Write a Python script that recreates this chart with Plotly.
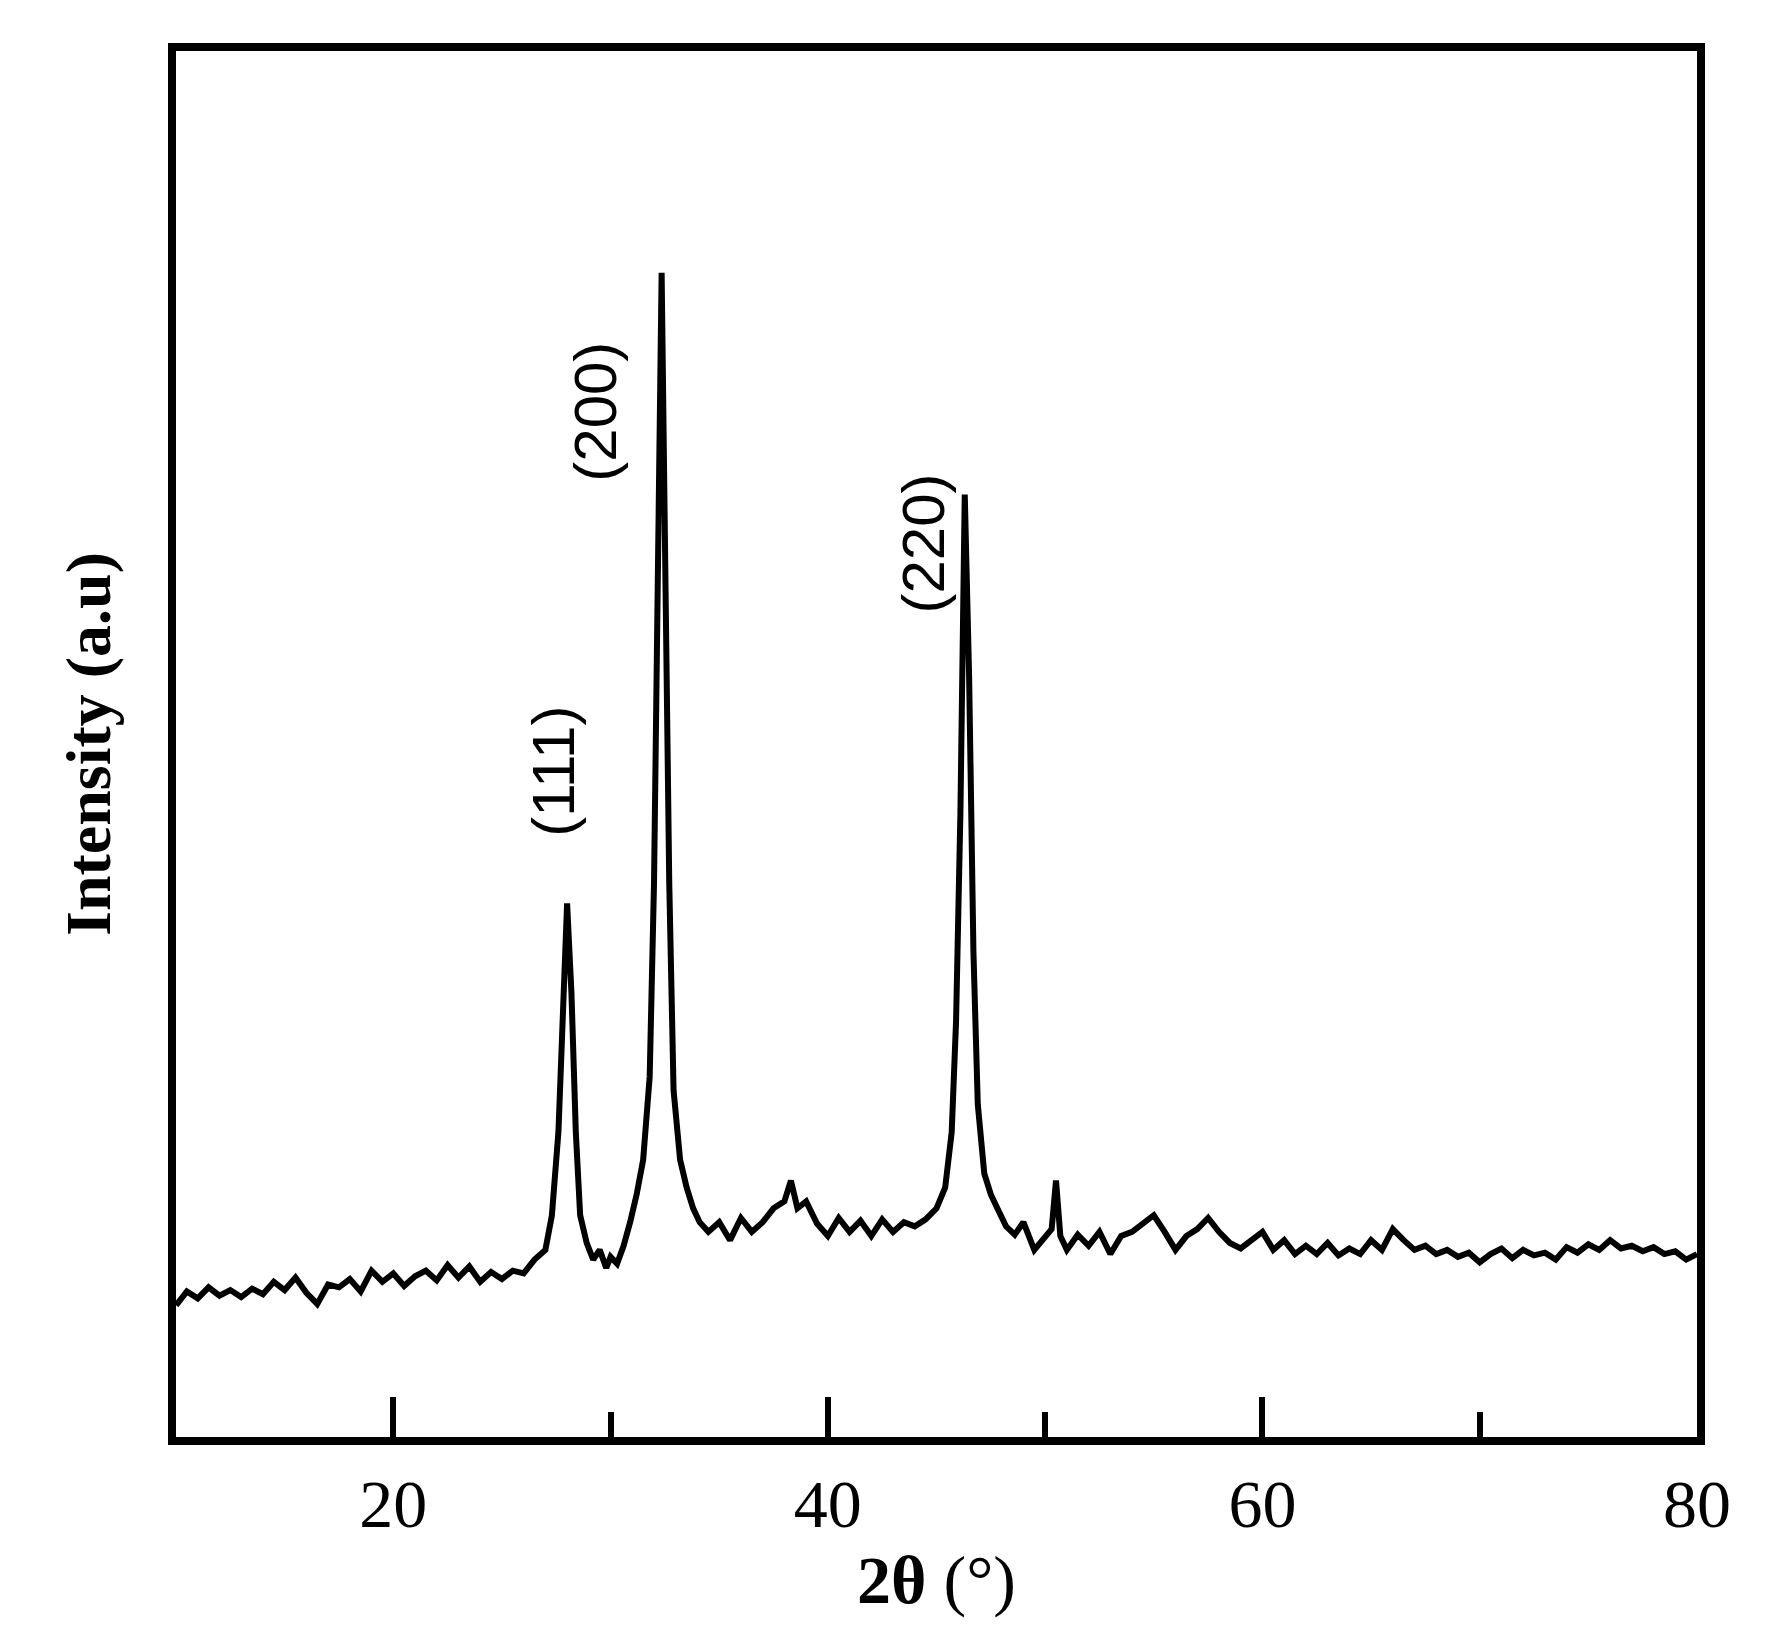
import plotly.graph_objects as go

# 2-theta positions (deg) and intensities (a.u.)
two_theta = [10, 10.5, 11, 11.5, 12, 12.5, 13, 13.5, 14, 14.5, 15, 15.5, 16, 16.5, 17, 17.5, 18, 18.5,
             19, 19.5, 20, 20.5, 21, 21.5, 22, 22.5, 23, 23.5, 24, 24.5, 25, 25.5, 26, 26.5, 27,
             27.3, 27.6, 27.8, 28.0, 28.2, 28.4, 28.6, 28.9, 29.2, 29.5, 29.8, 30, 30.3, 30.6, 30.9,
             31.2, 31.5, 31.8, 32.0, 32.2, 32.35, 32.5, 32.7, 32.9, 33.2, 33.5, 33.8, 34.1, 34.5, 35,
             35.5, 36, 36.5, 37, 37.5, 38, 38.3, 38.6, 39, 39.5, 40, 40.5, 41, 41.5, 42, 42.5, 43,
             43.5, 44, 44.5, 45, 45.4, 45.7, 45.9, 46.1, 46.3, 46.5, 46.7, 46.9, 47.2, 47.5, 47.8,
             48.2, 48.6, 49, 49.5, 50, 50.3, 50.5, 50.7, 51, 51.5, 52, 52.5, 53, 53.5, 54, 54.5, 55,
             55.5, 56, 56.5, 57, 57.5, 58, 58.5, 59, 59.5, 60, 60.5, 61, 61.5, 62, 62.5, 63, 63.5, 64,
             64.5, 65, 65.5, 66, 66.5, 67, 67.5, 68, 68.5, 69, 69.5, 70, 70.5, 71, 71.5, 72, 72.5, 73,
             73.5, 74, 74.5, 75, 75.5, 76, 76.5, 77, 77.5, 78, 78.5, 79, 79.5, 80]
intensity = [9.5, 10.5, 10, 10.8, 10.2, 10.6, 10.1, 10.7, 10.3, 11.2, 10.6, 11.5, 10.4, 9.6, 11, 10.8, 11.4, 10.5,
             12, 11.2, 11.8, 10.9, 11.6, 12, 11.3, 12.4, 11.5, 12.3, 11.2, 11.9, 11.4, 12, 11.8, 12.8, 13.5,
             16, 22, 30, 38.5, 32, 22, 16, 14, 12.8, 13.5, 12.2, 13, 12.5, 13.8, 15.5,
             17.5, 20, 26, 40, 70, 84, 65, 40, 25, 20, 18, 16.5, 15.5, 14.8, 15.5,
             14.2, 15.8, 14.8, 15.5, 16.5, 17, 18.5, 16.5, 17, 15.4, 14.5, 15.8, 14.8, 15.6, 14.5, 15.7, 14.8,
             15.5, 15.2, 15.7, 16.5, 18, 22, 30, 45, 68, 55, 35, 24, 19, 17.5, 16.5,
             15.2, 14.6, 15.5, 13.5, 14.5, 15, 18.5, 14.5, 13.5, 14.6, 13.8, 14.8, 13.2, 14.5, 14.8, 15.4, 16,
             14.8, 13.5, 14.5, 15, 15.8, 14.8, 14, 13.6, 14.2, 14.8, 13.5, 14.2, 13.2, 13.8, 13.2, 14, 13.1, 13.6,
             13.2, 14.2, 13.5, 15, 14.2, 13.5, 13.8, 13.2, 13.5, 13, 13.3, 12.6, 13.2, 13.6, 12.9, 13.5, 13.1, 13.3,
             12.8, 13.7, 13.3, 13.9, 13.5, 14.2, 13.6, 13.8, 13.4, 13.7, 13.2, 13.4, 12.8, 13.2]

peak_labels = ["(111)", "(200)", "(220)"]
label_x = [27.4, 29.3, 44.4]
label_y = [48, 74, 64.5]

fig = go.Figure()
fig.add_trace(go.Scatter(x=two_theta, y=intensity, mode="lines",
                         line=dict(color="black", width=6), showlegend=False))

for t, x, y in zip(peak_labels, label_x, label_y):
    fig.add_annotation(x=x, y=y, text=t, showarrow=False, textangle=-90,
                       font=dict(family="Liberation Sans", size=60, color="black"))

serif = "Liberation Serif"
fig.update_layout(
    width=1765, height=1643,
    plot_bgcolor="white", paper_bgcolor="white",
    margin=dict(l=168, r=76, t=43, b=214),
    xaxis=dict(range=[10, 80], tickvals=[20, 40, 60, 80], ticks="inside", ticklen=40, tickwidth=6,
               tickcolor="black", minor=dict(tickvals=[30, 50, 70], ticks="inside", ticklen=25,
                                             tickwidth=6, tickcolor="black"),
               showline=True, linewidth=8, linecolor="black", mirror=True, showgrid=False,
               zeroline=False, tickfont=dict(family=serif, size=68, color="black"),
               title=dict(text="<b>2θ</b> (°)", font=dict(family=serif, size=68, color="black"),
                          standoff=0)),
    yaxis=dict(range=[0, 100], showticklabels=False, ticks="", showline=True, linewidth=8,
               linecolor="black", mirror=True, showgrid=False, zeroline=False,
               title=dict(text="<b>Intensity (a.u)</b>", font=dict(family=serif, size=64, color="black"),
                          standoff=40)),
)

fig.write_html("out.html")
